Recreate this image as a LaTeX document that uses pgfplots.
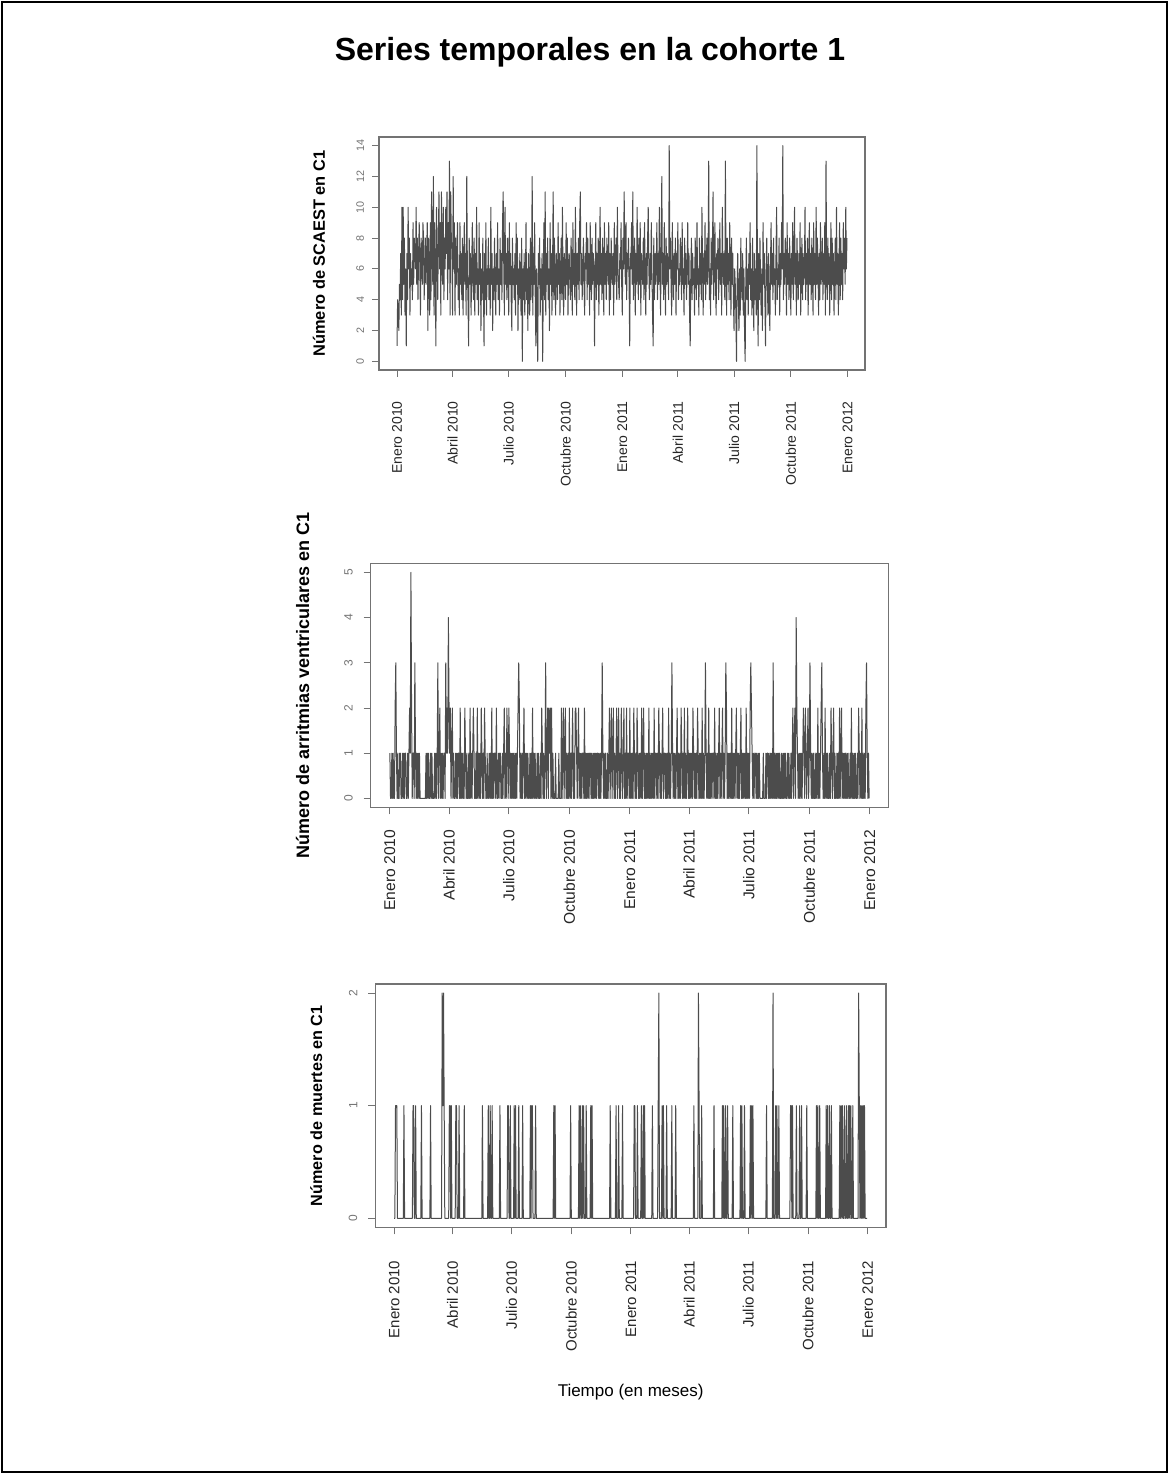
\documentclass[border=0pt]{standalone}
\usepackage{pgfplots}
\pgfplotsset{compat=1.18}
\usepackage{pgfplotstable}
\usepackage{fontspec}
\setmainfont{Liberation Sans}

% SCAEST daily counts, 1 Jan 2010 - 31 Dec 2011 (730 days, 10 per line)
\pgfplotstableread[row sep=\\]{
y\\
1\\4\\3\\2\\5\\4\\7\\3\\10\\4\\
10\\5\\8\\3\\6\\1\\7\\4\\10\\6\\
8\\3\\7\\5\\6\\4\\9\\5\\8\\7\\
6\\10\\5\\8\\4\\7\\9\\6\\3\\8\\
7\\5\\9\\8\\4\\6\\8\\5\\7\\9\\
2\\8\\6\\3\\9\\4\\11\\7\\5\\12\\
3\\9\\6\\1\\10\\7\\4\\8\\11\\6\\
9\\3\\11\\7\\5\\10\\4\\8\\6\\10\\
7\\11\\4\\9\\6\\13\\3\\11\\8\\7\\
3\\12\\6\\9\\3\\8\\5\\7\\9\\4\\
6\\3\\9\\5\\7\\4\\8\\3\\6\\9\\
5\\7\\3\\12\\6\\4\\1\\8\\5\\7\\
3\\6\\9\\5\\4\\8\\3\\7\\5\\10\\
4\\6\\3\\9\\5\\7\\2\\6\\4\\8\\
5\\1\\7\\4\\9\\3\\6\\5\\8\\4\\
6\\3\\10\\5\\7\\2\\6\\4\\8\\5\\
3\\7\\5\\9\\4\\6\\3\\8\\5\\7\\
4\\9\\11\\6\\3\\10\\5\\7\\4\\8\\
6\\3\\9\\5\\7\\4\\2\\8\\5\\6\\
4\\7\\3\\9\\5\\8\\2\\6\\4\\7\\
5\\3\\8\\0\\6\\4\\7\\3\\5\\9\\
4\\6\\2\\7\\5\\3\\8\\4\\6\\12\\
3\\7\\5\\9\\4\\1\\6\\3\\0\\7\\
5\\8\\3\\6\\4\\7\\0\\5\\9\\4\\
11\\3\\7\\5\\8\\4\\6\\2\\9\\5\\
7\\3\\6\\11\\4\\8\\5\\3\\7\\6\\
4\\9\\5\\7\\3\\6\\8\\4\\10\\5\\
3\\7\\6\\4\\9\\5\\8\\3\\6\\7\\
5\\4\\8\\6\\3\\9\\5\\7\\4\\10\\
6\\3\\7\\5\\8\\4\\9\\11\\5\\7\\
4\\6\\8\\5\\3\\7\\6\\9\\4\\8\\
5\\7\\3\\9\\6\\4\\8\\5\\7\\6\\
1\\6\\9\\4\\7\\5\\8\\3\\6\\10\\
5\\7\\4\\8\\6\\3\\9\\5\\7\\4\\
8\\6\\5\\9\\3\\7\\4\\8\\6\\5\\
7\\3\\9\\5\\6\\8\\4\\10\\6\\5\\
4\\7\\6\\9\\5\\3\\8\\6\\11\\7\\
5\\9\\4\\7\\6\\8\\5\\1\\7\\6\\
9\\5\\11\\4\\6\\8\\3\\7\\5\\10\\
6\\4\\8\\5\\9\\3\\7\\6\\5\\8\\
4\\9\\6\\3\\7\\5\\8\\10\\6\\4\\
7\\5\\9\\6\\3\\1\\8\\4\\7\\5\\
6\\9\\4\\7\\5\\10\\6\\3\\8\\12\\
5\\7\\4\\9\\6\\3\\8\\5\\7\\6\\
4\\14\\6\\8\\5\\3\\9\\6\\4\\7\\
5\\8\\3\\7\\6\\9\\4\\6\\5\\8\\
7\\4\\9\\5\\6\\3\\8\\5\\7\\4\\
6\\9\\5\\7\\3\\1\\6\\8\\4\\7\\
5\\6\\3\\8\\7\\4\\9\\5\\6\\3\\
8\\5\\7\\4\\10\\6\\3\\7\\5\\9\\
4\\6\\8\\5\\7\\13\\4\\6\\3\\8\\
5\\7\\11\\4\\6\\9\\5\\3\\7\\6\\
8\\4\\6\\9\\5\\7\\3\\10\\6\\5\\
7\\4\\13\\6\\3\\8\\5\\7\\4\\9\\
6\\3\\8\\5\\7\\4\\2\\6\\5\\3\\
0\\5\\7\\4\\2\\6\\3\\8\\5\\4\\
7\\3\\6\\2\\0\\5\\8\\4\\6\\3\\
7\\5\\9\\4\\6\\3\\8\\5\\2\\7\\
4\\6\\3\\14\\5\\1\\7\\4\\8\\5\\
3\\6\\2\\9\\5\\7\\4\\1\\6\\8\\
5\\3\\7\\4\\2\\6\\9\\5\\7\\4\\
8\\5\\6\\3\\7\\10\\4\\6\\5\\8\\
3\\7\\5\\9\\6\\14\\4\\7\\5\\8\\
6\\3\\9\\5\\7\\4\\8\\6\\3\\7\\
5\\9\\4\\6\\10\\5\\7\\3\\8\\6\\
4\\7\\5\\9\\3\\6\\8\\4\\7\\5\\
6\\10\\4\\7\\5\\8\\3\\6\\9\\5\\
7\\4\\8\\6\\3\\9\\5\\7\\4\\10\\
5\\8\\6\\3\\7\\4\\9\\5\\6\\8\\
4\\7\\5\\9\\3\\13\\6\\4\\8\\5\\
7\\3\\6\\9\\4\\8\\5\\7\\3\\6\\
8\\4\\10\\5\\7\\3\\6\\9\\4\\8\\
5\\7\\4\\9\\6\\8\\5\\10\\6\\8\\
}\scaest

% ventricular arrhythmias, daily counts
\pgfplotstableread[row sep=\\]{
y\\
1\\0\\0\\1\\0\\1\\0\\0\\2\\3\\
1\\0\\1\\0\\0\\1\\1\\0\\0\\1\\
0\\1\\0\\1\\1\\0\\0\\1\\0\\1\\
2\\1\\5\\2\\0\\1\\1\\0\\3\\1\\
0\\1\\0\\1\\0\\1\\0\\0\\0\\0\\
0\\0\\0\\0\\0\\1\\0\\1\\0\\1\\
0\\0\\1\\0\\1\\0\\0\\0\\1\\0\\
1\\0\\1\\3\\0\\1\\2\\0\\1\\0\\
1\\0\\1\\1\\0\\3\\1\\2\\1\\4\\
2\\1\\2\\0\\1\\2\\0\\1\\0\\0\\
1\\0\\1\\0\\1\\1\\0\\2\\0\\1\\
0\\1\\0\\0\\2\\1\\0\\1\\0\\0\\
1\\0\\2\\0\\1\\0\\1\\2\\1\\0\\
0\\1\\0\\2\\0\\1\\0\\1\\0\\2\\
1\\0\\1\\0\\2\\1\\0\\0\\1\\0\\
0\\1\\0\\1\\0\\2\\0\\1\\0\\1\\
1\\0\\2\\0\\0\\1\\0\\1\\1\\0\\
0\\1\\0\\1\\2\\0\\1\\0\\2\\1\\
0\\2\\1\\0\\1\\0\\1\\0\\1\\0\\
1\\0\\1\\0\\1\\2\\3\\2\\0\\1\\
0\\1\\0\\1\\2\\0\\1\\0\\1\\0\\
1\\0\\0\\1\\0\\1\\0\\2\\0\\1\\
0\\1\\0\\0\\1\\0\\1\\0\\0\\1\\
0\\2\\1\\0\\1\\0\\1\\3\\0\\1\\
2\\0\\2\\1\\2\\0\\2\\0\\1\\0\\
0\\0\\1\\0\\0\\0\\0\\1\\0\\0\\
0\\2\\0\\1\\2\\0\\1\\2\\0\\1\\
0\\1\\0\\2\\0\\1\\0\\1\\2\\0\\
1\\0\\2\\2\\1\\0\\1\\2\\0\\1\\
0\\1\\0\\1\\1\\0\\2\\0\\1\\0\\
1\\0\\1\\0\\1\\1\\0\\1\\0\\1\\
0\\1\\0\\1\\0\\1\\1\\0\\1\\0\\
1\\0\\1\\3\\1\\0\\1\\0\\1\\0\\
0\\1\\0\\1\\2\\0\\1\\2\\0\\1\\
2\\0\\1\\0\\1\\2\\0\\1\\2\\0\\
1\\0\\2\\1\\0\\1\\2\\0\\1\\0\\
2\\0\\1\\1\\0\\2\\0\\1\\0\\1\\
0\\2\\1\\0\\1\\0\\2\\1\\0\\1\\
0\\1\\0\\2\\0\\1\\2\\0\\1\\0\\
1\\0\\1\\0\\2\\0\\1\\0\\1\\0\\
1\\0\\2\\0\\1\\1\\0\\1\\0\\2\\
1\\0\\1\\0\\1\\2\\0\\1\\1\\0\\
1\\0\\1\\0\\2\\0\\1\\0\\1\\3\\
1\\0\\1\\0\\1\\0\\1\\2\\0\\1\\
0\\1\\0\\2\\1\\0\\1\\0\\2\\0\\
1\\0\\1\\2\\0\\1\\0\\1\\0\\1\\
0\\2\\1\\0\\1\\0\\1\\0\\2\\1\\
0\\1\\0\\1\\0\\2\\0\\1\\0\\1\\
3\\1\\0\\1\\0\\2\\0\\1\\0\\1\\
0\\1\\1\\0\\2\\0\\1\\0\\1\\0\\
1\\2\\0\\1\\0\\1\\2\\0\\1\\0\\
1\\3\\2\\0\\1\\0\\1\\0\\1\\0\\
2\\0\\1\\0\\1\\0\\1\\2\\0\\1\\
0\\1\\0\\1\\2\\0\\1\\0\\1\\0\\
1\\0\\2\\0\\1\\0\\1\\0\\2\\3\\
2\\1\\0\\1\\0\\1\\1\\0\\1\\0\\
1\\0\\1\\0\\0\\0\\0\\0\\1\\0\\
0\\0\\1\\0\\1\\1\\0\\1\\0\\1\\
0\\1\\0\\3\\0\\1\\0\\1\\0\\1\\
0\\1\\0\\1\\0\\0\\1\\0\\1\\0\\
1\\0\\1\\0\\0\\1\\0\\1\\0\\0\\
1\\0\\1\\2\\0\\1\\2\\0\\4\\2\\
1\\0\\1\\0\\1\\0\\1\\0\\1\\2\\
1\\0\\2\\1\\0\\1\\2\\0\\1\\3\\
1\\0\\1\\0\\1\\0\\0\\1\\0\\1\\
0\\2\\0\\1\\0\\1\\2\\3\\1\\0\\
1\\0\\2\\0\\1\\0\\1\\0\\0\\1\\
0\\2\\1\\0\\1\\2\\0\\1\\0\\0\\
1\\0\\1\\0\\2\\0\\1\\2\\0\\1\\
0\\1\\0\\1\\0\\1\\0\\1\\0\\0\\
1\\0\\2\\0\\1\\0\\1\\0\\1\\0\\
0\\1\\0\\2\\1\\0\\1\\0\\2\\0\\
1\\0\\1\\0\\2\\3\\1\\0\\1\\0\\
}\arrit

% deaths: day index and count (days not listed between two zeros are zero)
\pgfplotstableread{
x y
0 0
1 0
2 1
3 1
4 1
5 0
14 0
15 1
16 0
28 0
29 1
30 1
31 0
32 0
33 1
34 0
41 0
42 1
43 0
55 0
56 1
57 0
73 0
74 2
75 1
76 2
77 1
78 0
84 0
85 1
86 1
87 0
88 1
89 0
94 0
95 1
96 1
97 0
99 0
100 1
101 0
107 0
108 1
109 0
135 0
136 1
137 0
144 0
145 1
146 0
147 0
148 1
149 0
150 0
151 1
152 0
162 0
163 1
164 0
174 0
175 1
176 1
177 0
178 0
179 1
180 0
184 0
185 1
186 0
187 1
188 0
191 0
192 1
193 0
197 0
198 1
199 0
209 0
210 1
211 0
212 1
213 1
214 0
217 0
218 1
219 0
245 0
246 1
247 0
248 1
249 0
271 0
272 1
273 0
284 0
285 1
286 0
287 1
288 0
289 0
290 1
291 0
292 1
293 0
295 0
296 1
297 0
302 0
303 1
304 0
305 1
306 0
332 0
333 1
334 0
341 0
342 1
343 0
345 0
346 1
347 0
351 0
352 1
353 0
369 0
370 1
371 1
372 0
374 0
375 1
376 0
380 0
381 1
382 0
383 0
384 1
385 0
386 1
387 0
397 0
398 1
399 0
406 0
407 1
408 2
409 0
412 0
413 1
414 0
415 1
416 0
419 0
420 1
421 0
427 0
428 1
429 0
433 0
434 1
435 0
461 0
462 1
463 0
468 0
469 2
470 1
471 0
473 0
474 1
475 0
492 0
493 1
494 0
505 0
506 1
507 0
508 1
509 0
510 0
511 1
512 0
513 0
514 1
515 0
521 0
522 1
523 0
533 0
534 1
535 0
536 1
537 0
539 0
540 1
541 0
548 0
549 1
550 0
551 1
552 0
553 1
554 0
573 0
574 1
575 0
583 0
584 2
585 0
587 0
588 1
589 0
590 1
591 0
592 0
593 1
594 0
610 0
611 1
612 1
613 0
614 1
615 0
619 0
620 1
621 0
624 0
625 1
626 0
627 0
628 1
629 0
635 0
636 1
637 0
650 0
651 1
652 0
653 1
654 0
655 0
656 1
657 0
665 0
666 1
667 0
668 1
669 0
670 0
671 1
672 0
673 0
674 1
675 0
686 0
687 1
688 0
689 1
690 0
691 1
692 0
693 0
694 1
695 0
696 0
697 1
698 0
699 0
700 1
701 0
702 1
703 0
704 1
705 0
706 0
707 1
708 0
715 0
716 2
717 1
718 0
719 1
720 0
721 1
722 0
723 1
724 0
725 1
726 0
729 0
}\muertes

\pgfplotsset{
  panel/.style={
    scale only axis,
    xmin=-29.16, xmax=758.16,
    xtick={0,90,181,273,365,455,546,638,730},
    xticklabels={Enero 2010,Abril 2010,Julio 2010,Octubre 2010,Enero 2011,Abril 2011,Julio 2011,Octubre 2011,Enero 2012},
    tick align=outside,
    xtick pos=bottom, ytick pos=left,
    major tick length=3.5pt,
    tick style={black!55, line width=0.5pt},
    axis line style={black!55, line width=0.7pt},
    xticklabel style={rotate=90, anchor=east, inner sep=0pt, text=black!85},
    yticklabel style={rotate=90, anchor=south, inner sep=0pt, text=black!55},
    /pgf/number format/assume math mode=true,
    clip=false,
  },
  series/.style={black!70, line width=0.5pt, line join=round},
}

\begin{document}
\begin{tikzpicture}
\useasboundingbox (0,0) rectangle (584.5pt,737pt);
\draw[line width=1.2pt] (1pt,1pt) rectangle (583.5pt,736pt);
\node[font=\fontsize{16}{19}\selectfont\bfseries] at (295pt,711pt) {Series temporales en la cohorte 1};

% Panel 1
\begin{axis}[panel,
  at={(189.5pt,552pt)}, anchor=south west,
  width=243pt, height=116.5pt,
  ymin=-0.56, ymax=14.56, ytick={0,2,...,14},
  xticklabel shift=12pt, yticklabel shift=3.75pt,
  xticklabel style={font=\fontsize{7}{8}\selectfont},
  yticklabel style={font=\fontsize{5.4}{6}\selectfont},
  ylabel={Número de SCAEST en C1},
  every axis y label/.style={at={(rel axis cs:0,0.5)}, xshift=-30pt, rotate=90, anchor=center, font=\fontsize{8.2}{9}\selectfont\bfseries},
]
\addplot[series] table[x expr=\coordindex, y=y] {\scaest};
\end{axis}

% Panel 2
\begin{axis}[panel,
  at={(185.35pt,333.25pt)}, anchor=south west,
  width=258.8pt, height=122.1pt,
  ymin=-0.2, ymax=5.2, ytick={0,...,5},
  xticklabel shift=7.5pt, yticklabel shift=5.3pt,
  xticklabel style={font=\fontsize{7.8}{9}\selectfont},
  yticklabel style={font=\fontsize{6}{7}\selectfont},
  ylabel={Número de arritmias ventriculares en C1},
  every axis y label/.style={at={(rel axis cs:0,0.5)}, xshift=-34pt, rotate=90, anchor=center, font=\fontsize{9}{10}\selectfont\bfseries},
]
\addplot[series] table[x expr=\coordindex, y=y] {\arrit};
\end{axis}

% Panel 3
\begin{axis}[panel,
  at={(187.65pt,123.35pt)}, anchor=south west,
  width=255.35pt, height=121.65pt,
  ymin=-0.08, ymax=2.08, ytick={0,1,2},
  xticklabel shift=13pt, yticklabel shift=5.3pt,
  xticklabel style={font=\fontsize{7.5}{9}\selectfont},
  yticklabel style={font=\fontsize{6}{7}\selectfont},
  ylabel={Número de muertes en C1},
  every axis y label/.style={at={(rel axis cs:0,0.5)}, xshift=-29.5pt, rotate=90, anchor=center, font=\fontsize{8.1}{9}\selectfont\bfseries},
  xlabel={Tiempo (en meses)},
  every axis x label/.style={at={(rel axis cs:0.5,0)}, yshift=-82.5pt, anchor=center, font=\fontsize{8.5}{10}\selectfont},
]
\addplot[series] table[x=x, y=y] {\muertes};
\end{axis}
\end{tikzpicture}
\end{document}
